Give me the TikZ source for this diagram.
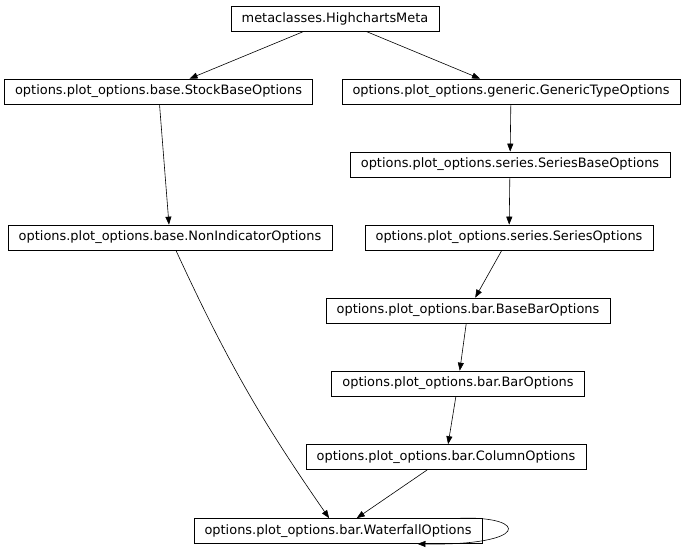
\documentclass[tikz,border=0pt]{standalone}
\usepackage{fontspec}
\setmainfont{DejaVu Sans}
\usetikzlibrary{arrows.meta}

\begin{document}
\begin{tikzpicture}[x=0.75pt,y=0.75pt,yscale=-1,xscale=1,
  cls/.style={draw, line width=0.5pt, inner xsep=8pt, inner ysep=0pt, minimum height=18.75pt,
    font=\fontsize{9.7}{11}\selectfont},
  inh/.style={-{Triangle[length=6pt,width=4.5pt]}, line width=0.45pt}]
%set diagram size: 685 x 551
\useasboundingbox (0,0) rectangle (685,551);

% Text Node
\node [cls] (meta) at (335,18.5) {metaclasses.HighchartsMeta};
% Text Node
\node [cls] (stockbase) at (158.5,91.5) {options.plot\_options.base.StockBaseOptions};
% Text Node
\node [cls] (generic) at (511,91.5) {options.plot\_options.generic.GenericTypeOptions};
% Text Node
\node [cls] (seriesbase) at (510,164.5) {options.plot\_options.series.SeriesBaseOptions};
% Text Node
\node [cls] (nonind) at (170,237.5) {options.plot\_options.base.NonIndicatorOptions};
% Text Node
\node [cls] (series) at (509,237.5) {options.plot\_options.series.SeriesOptions};
% Text Node
\node [cls] (basebar) at (468,310.5) {options.plot\_options.bar.BaseBarOptions};
% Text Node
\node [cls] (bar) at (458,383.5) {options.plot\_options.bar.BarOptions};
% Text Node
\node [cls] (column) at (446,457) {options.plot\_options.bar.ColumnOptions};
% Text Node
\node [cls] (waterfall) at (338,531) {options.plot\_options.bar.WaterfallOptions};

%Straight Lines
\draw [inh] (meta) -- (stockbase);
\draw [inh] (meta) -- (generic);
\draw [inh] (stockbase) -- (nonind);
\draw [inh] (generic) -- (seriesbase);
\draw [inh] (seriesbase) -- (series);
\draw [inh] (nonind) to [bend left=5] (waterfall);
\draw [inh] (series) -- (basebar);
\draw [inh] (basebar) -- (bar);
\draw [inh] (bar) -- (column);
\draw [inh] (column) -- (waterfall);
%Self loop
\draw [inh] ([xshift=-16.5pt]waterfall.north east) .. controls +(69,-2) and +(112,2) .. ([xshift=-48.75pt]waterfall.south east);

\end{tikzpicture}
\end{document}
